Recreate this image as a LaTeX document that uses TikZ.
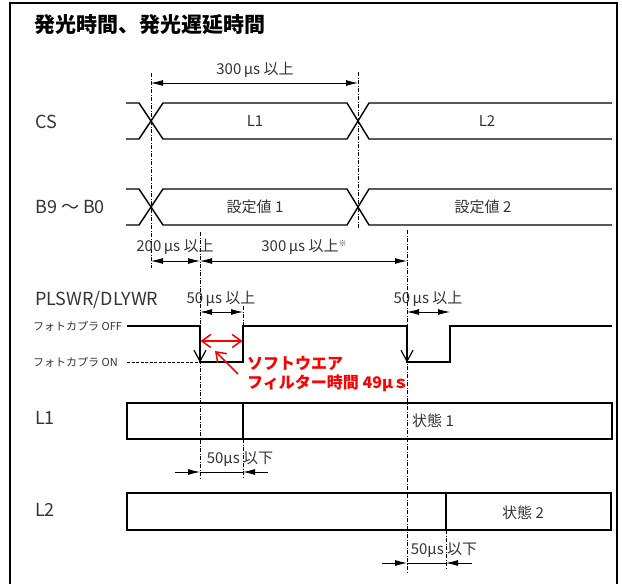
\documentclass[tikz,border=0pt]{standalone}
\usepackage{fontspec}
\setmainfont{Noto Sans CJK JP}
\usetikzlibrary{arrows.meta}
\definecolor{txt}{HTML}{333333}
\definecolor{redtxt}{HTML}{FF0000}
\begin{document}
\begin{tikzpicture}[x=1pt,y=-1pt,
  sig/.style={line width=1.4pt, line join=miter},
  guide/.style={line width=0.5pt, dash pattern=on 4pt off 1.5pt on 1pt off 1.5pt},
  dimarr/.style={line width=0.8pt, {Latex[length=12pt,width=6pt]}-{Latex[length=12pt,width=6pt]}},
  onearr/.style={line width=0.8pt, -{Latex[length=12pt,width=6pt]}},
  dimline/.style={line width=0.8pt},
  lbl/.style={font=\fontsize{18}{20}\selectfont, text=txt, inner sep=0pt},
  val/.style={font=\fontsize{15}{18}\selectfont, text=txt, inner sep=0pt},
  dimtxt/.style={font=\fontsize{15}{18}\selectfont, text=txt, inner sep=0pt},
  small/.style={font=\fontsize{11}{12}\selectfont, text=txt, inner sep=0pt},
  downarr/.style={line width=1.2pt, -{Straight Barb[length=11pt,width=12pt]}},
  redarr/.style={red, line width=1.5pt},
  redtext/.style={font=\fontsize{16}{18}\selectfont\bfseries, text=redtxt, inner sep=0pt}
]
\useasboundingbox (0,0) rectangle (622,584);
% frame
\draw[line width=1.3pt] (10,590) -- (10,3) -- (617,3) -- (617,590);
% title
\node[anchor=west, font=\fontsize{21}{24}\selectfont\bfseries, inner sep=0pt] (title) at (34,25) {発光時間、発光遅延時間};

% row labels
\node[lbl, anchor=west] (lcs) at (35,122) {CS};
\node[lbl, anchor=west] (lb) at (35,207) {B9 ～ B0};
\node[lbl, anchor=west] (lpls) at (35,300) {PLSWR/DLYWR};
\node[lbl, anchor=west] (ll1) at (35,418) {L1};
\node[lbl, anchor=west] (ll2) at (35,510) {L2};
\node[small, anchor=west] (loff) at (33,326) {フォトカプラ OFF};
\node[small, anchor=west] (lon) at (33,362) {フォトカプラ ON};

% guides
\draw[guide] (151,73) -- (151,268);
\draw[guide] (358,72) -- (358,228);
\draw[guide] (200,232) -- (200,478);
\draw[guide] (407,230) -- (407,572);
\draw[guide] (243,306) -- (243,327);
\draw[guide] (243,439) -- (243,478);
\draw[guide] (446,530) -- (446,570);

% CS
\draw[sig] (126,103) -- (139,103) -- (163,139) -- (347,139) -- (369,103) -- (612,103);
\draw[sig] (126,139) -- (139,139) -- (163,103) -- (347,103) -- (369,139) -- (612,139);
\node[val] (csl1) at (255,121) {L1};
\node[val] (csl2) at (487,121) {L2};

% B9-B0
\draw[sig] (126,189) -- (139,189) -- (163,225) -- (347,225) -- (369,189) -- (612,189);
\draw[sig] (126,225) -- (139,225) -- (163,189) -- (347,189) -- (369,225) -- (612,225);
\node[val] (set1) at (255,207) {設定値 1};
\node[val] (set2) at (483,207) {設定値 2};

% dimensions
\draw[dimarr] (151,83) -- (358,83);
\node[dimtxt] (d300a) at (255,70) {300\,μs 以上};
\draw[dimarr] (151,261) -- (200,261);
\node[dimtxt] (d200) at (175,247) {200\,μs 以上};
\draw[dimarr] (200,261) -- (407,261);
\node[dimtxt] (d300b) at (304,247) {300\,μs 以上\raisebox{5pt}{\fontsize{8}{8}\selectfont ※}};
\draw[dimarr] (200,312) -- (243,312);
\node[dimtxt] (d50a) at (221,299) {50\,μs 以上};
\draw[dimarr] (407,312) -- (450,312);
\node[dimtxt] (d50b) at (428,299) {50\,μs 以上};

% PLSWR signal
\draw[sig] (127,326) -- (200,326) -- (200,362) -- (243,362) -- (243,326) -- (407,326) -- (407,362) -- (450,362) -- (450,326) -- (612,326);
\draw[line width=0.8pt, dash pattern=on 3pt off 1.5pt] (127,362) -- (198,362);
\draw[downarr] (200,340) -- (200,362.5);
\draw[downarr] (407,340) -- (407,362.5);

% red annotation
\draw[redarr, {Straight Barb[length=9pt,width=13pt]}-{Straight Barb[length=9pt,width=13pt]}] (200.5,341) -- (242.5,341);
\draw[redarr, -{Straight Barb[length=9pt,width=13pt]}] (238,374) -- (215,351);
\node[redtext, anchor=west] (sw1) at (247,363) {ソフトウエア};
\node[redtext, anchor=west] (sw2) at (247,383) {フィルター時間 49μｓ};

% L1
\draw[sig] (127,403) rectangle (612,439);
\draw[sig] (243,403) -- (243,439);
\node[val] (st1) at (433,421) {状態 1};
\draw[onearr] (175,472) -- (200,472);
\draw[dimline] (200,472) -- (243,472);
\draw[onearr] (268,472) -- (243,472);
\node[dimtxt] (d50c) at (240,459) {50μs 以下};

% L2
\draw[sig] (127,493) rectangle (611,530);
\draw[sig] (446,493) -- (446,530);
\node[val] (st2) at (523,513) {状態 2};
\draw[onearr] (382,563) -- (407,563);
\draw[dimline] (407,563) -- (446,563);
\draw[onearr] (472,563) -- (446,563);
\node[dimtxt] (d50d) at (444,550) {50μs 以下};
\end{tikzpicture}
\end{document}
